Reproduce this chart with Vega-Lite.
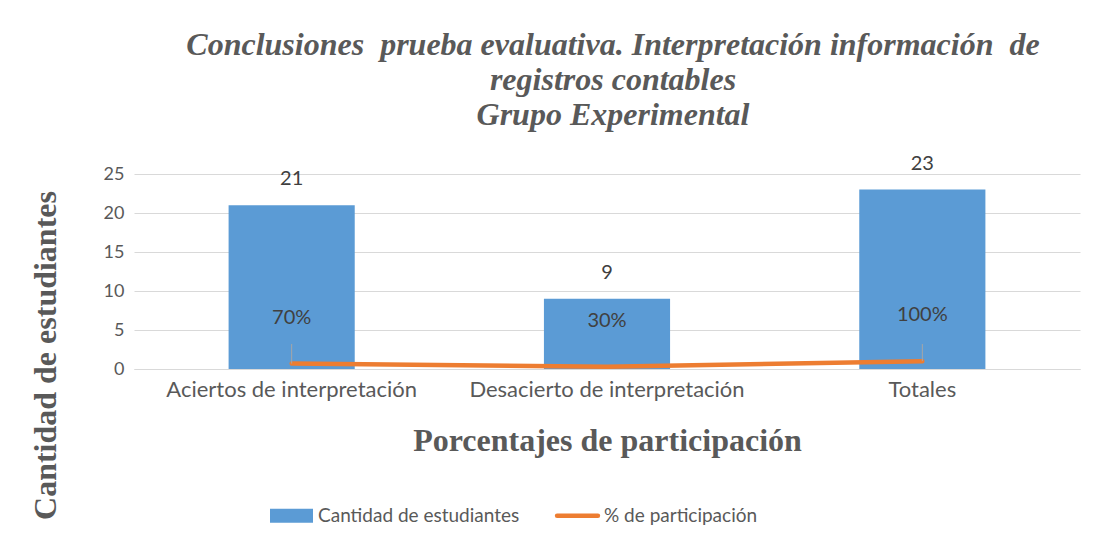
{
  "$schema": "https://vega.github.io/schema/vega-lite/v6.json",
  "autosize": {"type": "none"},
  "width": 946,
  "height": 195,
  "padding": {"left": 134, "top": 174, "right": 16, "bottom": 175},
  "background": "white",
  "config": {
    "view": {"stroke": null},
    "axisY": {
      "titleFont": "Liberation Serif",
      "titleFontSize": 32,
      "titleFontWeight": "bold",
      "titleColor": "#595959",
      "titleAngle": -90,
      "titleAlign": "center",
      "titleBaseline": "middle",
      "labelOverlap": false,
      "labelFont": "Lato",
      "labelFontSize": 18,
      "labelColor": "#595959",
      "labelPadding": 10,
      "ticks": false,
      "domain": false,
      "gridColor": "#D9D9D9",
      "gridWidth": 1
    }
  },
  "title": {
    "text": ["Conclusiones\u00a0\u00a0prueba evaluativa. Interpretación información\u00a0\u00a0de", "registros contables", "Grupo Experimental"],
    "font": "Liberation Serif",
    "fontSize": 32,
    "fontStyle": "italic",
    "fontWeight": "bold",
    "color": "#595959",
    "anchor": "middle",
    "frame": "group",
    "lineHeight": 35,
    "offset": 22,
    "dx": 6
  },
  "data": {
    "values": [
      {"cat": "Aciertos de interpretación", "n": 21, "pct": 0.7},
      {"cat": "Desacierto de interpretación", "n": 9, "pct": 0.3},
      {"cat": "Totales", "n": 23, "pct": 1.0}
    ]
  },
  "encoding": {
    "x": {
      "field": "cat",
      "type": "nominal",
      "sort": null,
      "scale": {"paddingInner": 0.6, "paddingOuter": 0.3},
      "axis": {
        "title": "Porcentajes de participación",
        "titleFont": "Liberation Serif",
        "titleFontSize": 32,
        "titleFontWeight": "bold",
        "titleColor": "#595959",
        "titleBaseline": "middle",
        "titleY": 71,
        "labelAngle": 0,
        "labelFont": "Lato",
        "labelFontSize": 22,
        "labelColor": "#595959",
        "labelPadding": 10,
        "labelLimit": 0,
        "ticks": false,
        "domainColor": "#D9D9D9",
        "domainWidth": 1
      }
    }
  },
  "layer": [
    {
      "mark": {"type": "bar", "color": "#5B9BD5"},
      "encoding": {
        "y": {
          "field": "n",
          "type": "quantitative",
          "scale": {"domain": [0, 25], "nice": false},
          "axis": {"title": "Cantidad de estudiantes", "titleX": -89, "titleY": 181, "values": [0, 5, 10, 15, 20, 25]}
        },
        "color": {
          "datum": "Cantidad de estudiantes",
          "scale": {"domain": ["Cantidad de estudiantes", "% de participación"], "range": ["#5B9BD5", "#ED7D31"]},
          "legend": {
            "orient": "none",
            "legendX": 148,
            "legendY": 332,
            "direction": "horizontal",
            "title": null,
            "padding": 0,
            "symbolSize": 1849,
            "columnPadding": 28,
            "labelOffset": 17,
            "labelLimit": 0,
            "labelFont": "Lato",
            "labelFontSize": 19,
            "labelColor": "#595959",
            "encode": {
              "symbols": {
                "update": {
                  "shape": {"signal": "datum.value === 'Cantidad de estudiantes' ? 'M-1,-0.33H1V0.33H-1Z' : 'M-0.95,0H0.95'"},
                  "fill": {"signal": "datum.value === 'Cantidad de estudiantes' ? '#5B9BD5' : 'transparent'"},
                  "stroke": {"signal": "datum.value === 'Cantidad de estudiantes' ? 'transparent' : '#ED7D31'"},
                  "strokeWidth": {"signal": "datum.value === 'Cantidad de estudiantes' ? 0 : 4.5"},
                  "strokeCap": {"value": "round"},
                  "opacity": {"value": 1}
                }
              }
            }
          }
        }
      }
    },
    {
      "mark": {"type": "text", "dy": -26, "baseline": "middle", "font": "Lato", "fontSize": 20, "color": "#404040"},
      "encoding": {
        "y": {"field": "n", "type": "quantitative", "scale": {"domain": [0, 25], "nice": false},
          "axis": {"title": "Cantidad de estudiantes", "titleX": -89, "titleY": 181, "values": [0, 5, 10, 15, 20, 25]}},
        "text": {"field": "n", "type": "quantitative"}
      }
    },
    {
      "mark": {"type": "line", "strokeWidth": 4.5, "strokeCap": "round"},
      "encoding": {
        "y": {"field": "pct", "type": "quantitative", "scale": {"domain": [0, 25], "nice": false},
          "axis": {"title": "Cantidad de estudiantes", "titleX": -89, "titleY": 181, "values": [0, 5, 10, 15, 20, 25]}},
        "color": {"datum": "% de participación"}
      }
    },
    {
      "transform": [{"filter": "datum.pct !== 0.3"}],
      "mark": {"type": "rule", "color": "#A6A6A6", "strokeWidth": 1},
      "encoding": {
        "y": {"field": "pct", "type": "quantitative", "scale": {"domain": [0, 25], "nice": false},
          "axis": {"title": "Cantidad de estudiantes", "titleX": -89, "titleY": 181, "values": [0, 5, 10, 15, 20, 25]}},
        "y2": {"datum": 3.2}
      }
    },
    {
      "mark": {"type": "text", "dy": -46, "baseline": "middle", "font": "Lato", "fontSize": 20, "color": "#404040"},
      "encoding": {
        "y": {"field": "pct", "type": "quantitative", "scale": {"domain": [0, 25], "nice": false},
          "axis": {"title": "Cantidad de estudiantes", "titleX": -89, "titleY": 181, "values": [0, 5, 10, 15, 20, 25]}},
        "text": {"field": "pct", "type": "quantitative", "format": ".0%"}
      }
    }
  ]
}
